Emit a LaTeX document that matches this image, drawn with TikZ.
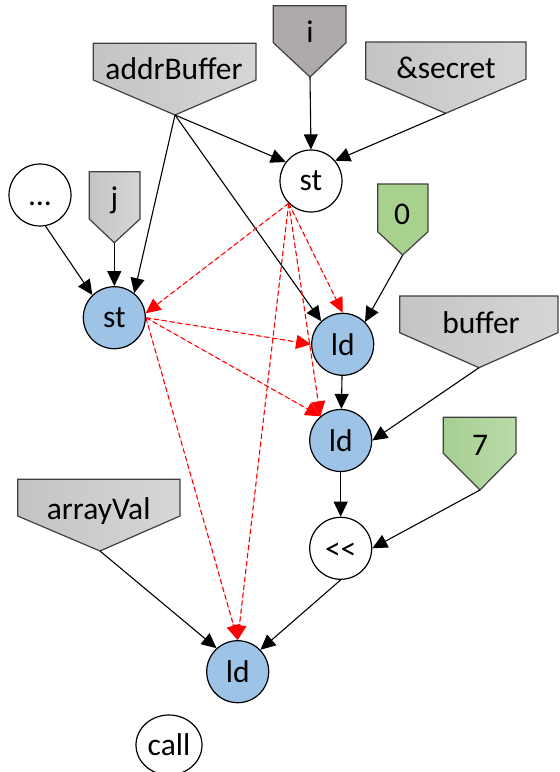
\documentclass[tikz,border=0pt]{standalone}
\usepackage{fontspec}
\setmainfont{Carlito}
\usetikzlibrary{arrows.meta,shapes.geometric}
\definecolor{opblue}{HTML}{9DC3E6}
\definecolor{taggrayL}{HTML}{C4C4C4}
\definecolor{taggrayR}{HTML}{D6D6D6}
\definecolor{tagdark}{HTML}{AEAAAA}
\definecolor{taggreen}{HTML}{A9D18E}
\definecolor{taggreenL}{HTML}{A6CF90}
\definecolor{taggreenR}{HTML}{BADAAA}
\definecolor{tagline}{HTML}{404040}
\definecolor{memred}{HTML}{FF0000}
\tikzset{
  op/.style={circle, draw=black, line width=1.2pt, minimum size=62pt, inner sep=0pt, font=\fontsize{31.5}{33}\selectfont},
  opmem/.style={op, fill=opblue},
  tagpath/.style={draw=tagline, line width=1.2pt, line join=miter},
  graytag/.style={tagpath, left color=taggrayL, right color=taggrayR},
  lbl/.style={anchor=base, inner sep=0pt, font=\fontsize{31.5}{33}\selectfont},
  dep/.style={line width=1.1pt, -{Triangle[length=15pt,width=14pt]}},
  memdep/.style={draw=memred, line width=1.1pt, dash pattern=on 5pt off 3pt, -{Triangle[length=15pt,width=14pt]}, fill=memred},
}
\begin{document}
\begin{tikzpicture}[x=1pt,y=-1pt]
\useasboundingbox (0,0) rectangle (560,772);

% input tags (pentagon "arrow" shapes)
\path[graytag] (93.3,43.3) -- (256,43.3) -- (256,80) -- (175,115) -- (93.3,80) -- cycle;
\coordinate (addrTip) at (175,115);
\node[lbl] (addrLbl) at (174,79.5) {addrBuffer};

\path[tagpath, fill=tagdark] (273.3,5.7) -- (346,5.7) -- (346,42.7) -- (310,77) -- (273.3,42.7) -- cycle;
\coordinate (iTip) at (310,77);
\node[lbl] (iLbl) at (310,42.7) {i};

\path[graytag] (365.7,42) -- (526,42) -- (526,79) -- (445.7,113.3) -- (365.7,79) -- cycle;
\coordinate (secTip) at (445.7,113.3);
\node[lbl] (secLbl) at (446,78.3) {\&secret};

\path[graytag] (89.3,171.7) -- (140,171.7) -- (140,219) -- (114.3,242.7) -- (89.3,219) -- cycle;
\coordinate (jTip) at (114.3,242.7);
\node[lbl] (jLbl) at (114.5,208) {j};

\path[tagpath, fill=taggreen] (377.7,184) -- (428,184) -- (428,231.7) -- (402.7,255) -- (377.7,231.7) -- cycle;
\coordinate (zeroTip) at (402.7,255);
\node[lbl] (zeroLbl) at (402,224.3) {0};

\path[graytag] (399.7,296) -- (558,296) -- (558,332.7) -- (479,367.7) -- (399.7,332.7) -- cycle;
\coordinate (bufTip) at (479,367.7);
\node[lbl] (bufLbl) at (481,333.3) {buffer};

\path[tagpath, left color=taggreenL, right color=taggreenR] (443.3,417.3) -- (516,417.3) -- (516,453.3) -- (480,490) -- (443.3,453.3) -- cycle;
\coordinate (sevenTip) at (480,490);
\node[lbl] (sevenLbl) at (480,455) {7};

\path[graytag] (17.7,479.3) -- (180,479.3) -- (180,516) -- (100,551) -- (17.7,516) -- cycle;
\coordinate (arrTip) at (100,551);
\node[lbl] (arrLbl) at (98.7,519.3) {arrayVal};

% operation nodes
\node[op, fill=white] (stTop) at (311,181) {st};
\node[op, fill=white] (dots) at (40,195) {\vphantom{ld}…};
\node[opmem] (stB) at (114.3,317.7) {st};
\node[opmem] (ldA) at (342.7,344.3) {ld};
\node[opmem] (ldB) at (340.7,440.5) {ld};
\node[op, fill=white] (shl) at (340.7,548.3) {\vphantom{ld}<{}<};
\node[opmem] (ldC) at (237.7,671.7) {ld};
\node[op, ellipse, fill=white, minimum width=66pt, minimum height=60pt] (call) at (169,745) {call};

% data dependences
\draw[dep] (addrTip) -- (stTop.143);
\draw[dep] (iTip) -- (stTop.north);
\draw[dep] (secTip) -- (stTop.40);
\draw[dep] (addrTip) -- (stB.51);
\draw[dep] (addrTip) -- (ldA.133);
\draw[dep] (dots.-80) -- (stB.134);
\draw[dep] (jTip) -- (stB.north);
\draw[dep] (zeroTip) -- (ldA.45);
\draw[dep] (ldA) -- (ldB);
\draw[dep] (bufTip) -- (ldB.east);
\draw[dep] (ldB) -- (shl);
\draw[dep] (sevenTip) -- (shl.east);
\draw[dep] (arrTip) -- (ldC.132);
\draw[dep] (shl.south) -- (ldC.44);

% memory dependences
\draw[memdep] (stTop.225) -- (stB.8);
\draw[memdep] (stTop.225) -- (ldA.north);
\draw[memdep] (stTop.225) -- (ldB.130);
\draw[memdep] (stTop.225) -- (ldC.north);
\draw[memdep] (stB.east) -- (ldA.west);
\draw[memdep] (stB.east) -- (ldB.130);
\draw[memdep] (stB.east) -- (ldC.north);
\end{tikzpicture}
\end{document}
